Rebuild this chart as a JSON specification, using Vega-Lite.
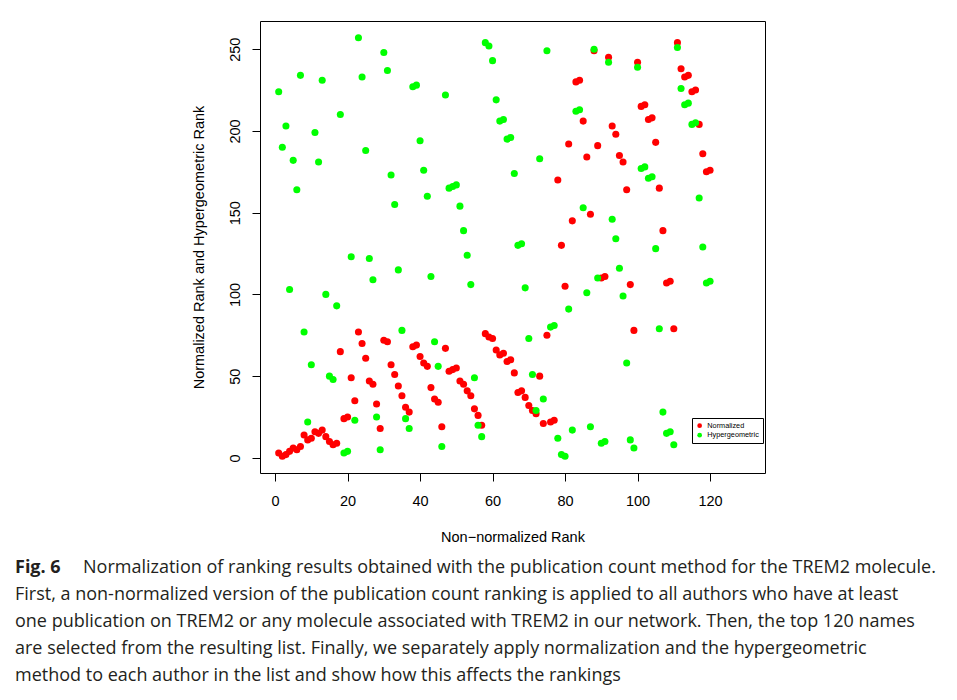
{
  "$schema": "https://vega.github.io/schema/vega-lite/v6.json",
  "autosize": {"type": "none"},
  "width": 505,
  "height": 452,
  "padding": {"left": 260, "top": 21, "right": 192, "bottom": 227},
  "background": "white",
  "datasets": {
    "pts": [
      {"r":1,"v":3,"m":"Normalized"},{"r":2,"v":1,"m":"Normalized"},{"r":3,"v":2,"m":"Normalized"},{"r":4,"v":4,"m":"Normalized"},{"r":5,"v":6,"m":"Normalized"},{"r":6,"v":5,"m":"Normalized"},{"r":7,"v":7,"m":"Normalized"},{"r":8,"v":14,"m":"Normalized"},{"r":9,"v":11,"m":"Normalized"},{"r":10,"v":12,"m":"Normalized"},
      {"r":11,"v":16,"m":"Normalized"},{"r":12,"v":15,"m":"Normalized"},{"r":13,"v":17,"m":"Normalized"},{"r":14,"v":13,"m":"Normalized"},{"r":15,"v":10,"m":"Normalized"},{"r":16,"v":8,"m":"Normalized"},{"r":17,"v":9,"m":"Normalized"},{"r":18,"v":65,"m":"Normalized"},{"r":19,"v":24,"m":"Normalized"},{"r":20,"v":25,"m":"Normalized"},
      {"r":21,"v":49,"m":"Normalized"},{"r":22,"v":35,"m":"Normalized"},{"r":23,"v":77,"m":"Normalized"},{"r":24,"v":70,"m":"Normalized"},{"r":25,"v":61,"m":"Normalized"},{"r":26,"v":47,"m":"Normalized"},{"r":27,"v":45,"m":"Normalized"},{"r":28,"v":33,"m":"Normalized"},{"r":29,"v":18,"m":"Normalized"},{"r":30,"v":72,"m":"Normalized"},
      {"r":31,"v":71,"m":"Normalized"},{"r":32,"v":57,"m":"Normalized"},{"r":33,"v":51,"m":"Normalized"},{"r":34,"v":44,"m":"Normalized"},{"r":35,"v":38,"m":"Normalized"},{"r":36,"v":31,"m":"Normalized"},{"r":37,"v":28,"m":"Normalized"},{"r":38,"v":68,"m":"Normalized"},{"r":39,"v":69,"m":"Normalized"},{"r":40,"v":62,"m":"Normalized"},
      {"r":41,"v":58,"m":"Normalized"},{"r":42,"v":56,"m":"Normalized"},{"r":43,"v":43,"m":"Normalized"},{"r":44,"v":36,"m":"Normalized"},{"r":45,"v":34,"m":"Normalized"},{"r":46,"v":19,"m":"Normalized"},{"r":47,"v":67,"m":"Normalized"},{"r":48,"v":53,"m":"Normalized"},{"r":49,"v":54,"m":"Normalized"},{"r":50,"v":55,"m":"Normalized"},
      {"r":51,"v":47,"m":"Normalized"},{"r":52,"v":45,"m":"Normalized"},{"r":53,"v":41,"m":"Normalized"},{"r":54,"v":38,"m":"Normalized"},{"r":55,"v":30,"m":"Normalized"},{"r":56,"v":26,"m":"Normalized"},{"r":57,"v":20,"m":"Normalized"},{"r":58,"v":76,"m":"Normalized"},{"r":59,"v":74,"m":"Normalized"},{"r":60,"v":73,"m":"Normalized"},
      {"r":61,"v":66,"m":"Normalized"},{"r":62,"v":63,"m":"Normalized"},{"r":63,"v":64,"m":"Normalized"},{"r":64,"v":59,"m":"Normalized"},{"r":65,"v":60,"m":"Normalized"},{"r":66,"v":52,"m":"Normalized"},{"r":67,"v":40,"m":"Normalized"},{"r":68,"v":41,"m":"Normalized"},{"r":69,"v":37,"m":"Normalized"},{"r":70,"v":32,"m":"Normalized"},
      {"r":71,"v":29,"m":"Normalized"},{"r":72,"v":27,"m":"Normalized"},{"r":73,"v":50,"m":"Normalized"},{"r":74,"v":21,"m":"Normalized"},{"r":75,"v":75,"m":"Normalized"},{"r":76,"v":22,"m":"Normalized"},{"r":77,"v":23,"m":"Normalized"},{"r":78,"v":170,"m":"Normalized"},{"r":79,"v":130,"m":"Normalized"},{"r":80,"v":105,"m":"Normalized"},
      {"r":81,"v":192,"m":"Normalized"},{"r":82,"v":145,"m":"Normalized"},{"r":83,"v":230,"m":"Normalized"},{"r":84,"v":231,"m":"Normalized"},{"r":85,"v":206,"m":"Normalized"},{"r":86,"v":184,"m":"Normalized"},{"r":87,"v":149,"m":"Normalized"},{"r":88,"v":249,"m":"Normalized"},{"r":89,"v":191,"m":"Normalized"},{"r":90,"v":110,"m":"Normalized"},
      {"r":91,"v":111,"m":"Normalized"},{"r":92,"v":245,"m":"Normalized"},{"r":93,"v":203,"m":"Normalized"},{"r":94,"v":198,"m":"Normalized"},{"r":95,"v":185,"m":"Normalized"},{"r":96,"v":181,"m":"Normalized"},{"r":97,"v":164,"m":"Normalized"},{"r":98,"v":106,"m":"Normalized"},{"r":99,"v":78,"m":"Normalized"},{"r":100,"v":242,"m":"Normalized"},
      {"r":101,"v":215,"m":"Normalized"},{"r":102,"v":216,"m":"Normalized"},{"r":103,"v":207,"m":"Normalized"},{"r":104,"v":208,"m":"Normalized"},{"r":105,"v":193,"m":"Normalized"},{"r":106,"v":165,"m":"Normalized"},{"r":107,"v":139,"m":"Normalized"},{"r":108,"v":107,"m":"Normalized"},{"r":109,"v":108,"m":"Normalized"},{"r":110,"v":79,"m":"Normalized"},
      {"r":111,"v":254,"m":"Normalized"},{"r":112,"v":238,"m":"Normalized"},{"r":113,"v":233,"m":"Normalized"},{"r":114,"v":234,"m":"Normalized"},{"r":115,"v":224,"m":"Normalized"},{"r":116,"v":225,"m":"Normalized"},{"r":117,"v":204,"m":"Normalized"},{"r":118,"v":186,"m":"Normalized"},{"r":119,"v":175,"m":"Normalized"},{"r":120,"v":176,"m":"Normalized"},
      {"r":1,"v":224,"m":"Hypergeometric"},{"r":2,"v":190,"m":"Hypergeometric"},{"r":3,"v":203,"m":"Hypergeometric"},{"r":4,"v":103,"m":"Hypergeometric"},{"r":5,"v":182,"m":"Hypergeometric"},{"r":6,"v":164,"m":"Hypergeometric"},{"r":7,"v":234,"m":"Hypergeometric"},{"r":8,"v":77,"m":"Hypergeometric"},{"r":9,"v":22,"m":"Hypergeometric"},{"r":10,"v":57,"m":"Hypergeometric"},
      {"r":11,"v":199,"m":"Hypergeometric"},{"r":12,"v":181,"m":"Hypergeometric"},{"r":13,"v":231,"m":"Hypergeometric"},{"r":14,"v":100,"m":"Hypergeometric"},{"r":15,"v":50,"m":"Hypergeometric"},{"r":16,"v":48,"m":"Hypergeometric"},{"r":17,"v":93,"m":"Hypergeometric"},{"r":18,"v":210,"m":"Hypergeometric"},{"r":19,"v":3,"m":"Hypergeometric"},{"r":20,"v":4,"m":"Hypergeometric"},
      {"r":21,"v":123,"m":"Hypergeometric"},{"r":22,"v":23,"m":"Hypergeometric"},{"r":23,"v":257,"m":"Hypergeometric"},{"r":24,"v":233,"m":"Hypergeometric"},{"r":25,"v":188,"m":"Hypergeometric"},{"r":26,"v":122,"m":"Hypergeometric"},{"r":27,"v":109,"m":"Hypergeometric"},{"r":28,"v":25,"m":"Hypergeometric"},{"r":29,"v":5,"m":"Hypergeometric"},{"r":30,"v":248,"m":"Hypergeometric"},
      {"r":31,"v":237,"m":"Hypergeometric"},{"r":32,"v":173,"m":"Hypergeometric"},{"r":33,"v":155,"m":"Hypergeometric"},{"r":34,"v":115,"m":"Hypergeometric"},{"r":35,"v":78,"m":"Hypergeometric"},{"r":36,"v":24,"m":"Hypergeometric"},{"r":37,"v":18,"m":"Hypergeometric"},{"r":38,"v":227,"m":"Hypergeometric"},{"r":39,"v":228,"m":"Hypergeometric"},{"r":40,"v":194,"m":"Hypergeometric"},
      {"r":41,"v":176,"m":"Hypergeometric"},{"r":42,"v":160,"m":"Hypergeometric"},{"r":43,"v":111,"m":"Hypergeometric"},{"r":44,"v":71,"m":"Hypergeometric"},{"r":45,"v":56,"m":"Hypergeometric"},{"r":46,"v":7,"m":"Hypergeometric"},{"r":47,"v":222,"m":"Hypergeometric"},{"r":48,"v":165,"m":"Hypergeometric"},{"r":49,"v":166,"m":"Hypergeometric"},{"r":50,"v":167,"m":"Hypergeometric"},
      {"r":51,"v":154,"m":"Hypergeometric"},{"r":52,"v":139,"m":"Hypergeometric"},{"r":53,"v":124,"m":"Hypergeometric"},{"r":54,"v":106,"m":"Hypergeometric"},{"r":55,"v":49,"m":"Hypergeometric"},{"r":56,"v":20,"m":"Hypergeometric"},{"r":57,"v":13,"m":"Hypergeometric"},{"r":58,"v":254,"m":"Hypergeometric"},{"r":59,"v":252,"m":"Hypergeometric"},{"r":60,"v":243,"m":"Hypergeometric"},
      {"r":61,"v":219,"m":"Hypergeometric"},{"r":62,"v":206,"m":"Hypergeometric"},{"r":63,"v":207,"m":"Hypergeometric"},{"r":64,"v":195,"m":"Hypergeometric"},{"r":65,"v":196,"m":"Hypergeometric"},{"r":66,"v":174,"m":"Hypergeometric"},{"r":67,"v":130,"m":"Hypergeometric"},{"r":68,"v":131,"m":"Hypergeometric"},{"r":69,"v":104,"m":"Hypergeometric"},{"r":70,"v":73,"m":"Hypergeometric"},
      {"r":71,"v":51,"m":"Hypergeometric"},{"r":72,"v":29,"m":"Hypergeometric"},{"r":73,"v":183,"m":"Hypergeometric"},{"r":74,"v":36,"m":"Hypergeometric"},{"r":75,"v":249,"m":"Hypergeometric"},{"r":76,"v":80,"m":"Hypergeometric"},{"r":77,"v":81,"m":"Hypergeometric"},{"r":78,"v":12,"m":"Hypergeometric"},{"r":79,"v":2,"m":"Hypergeometric"},{"r":80,"v":1,"m":"Hypergeometric"},
      {"r":81,"v":91,"m":"Hypergeometric"},{"r":82,"v":17,"m":"Hypergeometric"},{"r":83,"v":212,"m":"Hypergeometric"},{"r":84,"v":213,"m":"Hypergeometric"},{"r":85,"v":153,"m":"Hypergeometric"},{"r":86,"v":101,"m":"Hypergeometric"},{"r":87,"v":19,"m":"Hypergeometric"},{"r":88,"v":250,"m":"Hypergeometric"},{"r":89,"v":110,"m":"Hypergeometric"},{"r":90,"v":9,"m":"Hypergeometric"},
      {"r":91,"v":10,"m":"Hypergeometric"},{"r":92,"v":242,"m":"Hypergeometric"},{"r":93,"v":146,"m":"Hypergeometric"},{"r":94,"v":134,"m":"Hypergeometric"},{"r":95,"v":116,"m":"Hypergeometric"},{"r":96,"v":99,"m":"Hypergeometric"},{"r":97,"v":58,"m":"Hypergeometric"},{"r":98,"v":11,"m":"Hypergeometric"},{"r":99,"v":6,"m":"Hypergeometric"},{"r":100,"v":239,"m":"Hypergeometric"},
      {"r":101,"v":177,"m":"Hypergeometric"},{"r":102,"v":178,"m":"Hypergeometric"},{"r":103,"v":171,"m":"Hypergeometric"},{"r":104,"v":172,"m":"Hypergeometric"},{"r":105,"v":128,"m":"Hypergeometric"},{"r":106,"v":79,"m":"Hypergeometric"},{"r":107,"v":28,"m":"Hypergeometric"},{"r":108,"v":15,"m":"Hypergeometric"},{"r":109,"v":16,"m":"Hypergeometric"},{"r":110,"v":8,"m":"Hypergeometric"},
      {"r":111,"v":251,"m":"Hypergeometric"},{"r":112,"v":226,"m":"Hypergeometric"},{"r":113,"v":216,"m":"Hypergeometric"},{"r":114,"v":217,"m":"Hypergeometric"},{"r":115,"v":204,"m":"Hypergeometric"},{"r":116,"v":205,"m":"Hypergeometric"},{"r":117,"v":159,"m":"Hypergeometric"},{"r":118,"v":129,"m":"Hypergeometric"},{"r":119,"v":107,"m":"Hypergeometric"},{"r":120,"v":108,"m":"Hypergeometric"}
    ]
  },
  "data": {"name": "pts"},
  "title": {
    "text": "Fig. 6",
    "subtitle": [
      "\u200b\u2003\u2003\u2003\u00a0\u00a0\u00a0Normalization of ranking results obtained with the publication count method for the TREM2 molecule.",
      "First, a non-normalized version of the publication count ranking is applied to all authors who have at least",
      "one publication on TREM2 or any molecule associated with TREM2 in our network. Then, the top 120 names",
      "are selected from the resulting list. Finally, we separately apply normalization and the hypergeometric",
      "method to each author in the list and show how this affects the rankings"
    ],
    "orient": "bottom",
    "anchor": "start",
    "frame": "group",
    "dx": -245,
    "offset": 15,
    "font": "Open Sans",
    "fontSize": 18,
    "fontWeight": "bold",
    "color": "#231f20",
    "subtitleFont": "Open Sans",
    "subtitleFontSize": 18,
    "subtitleFontWeight": "normal",
    "subtitleColor": "#231f20",
    "subtitleLineHeight": 27,
    "subtitlePadding": -18,
    "limit": 1000
  },
  "mark": {"type": "point", "filled": true, "opacity": 1, "size": 50, "strokeWidth": 0},
  "encoding": {
    "x": {
      "field": "r", "type": "quantitative",
      "scale": {"domain": [-4.16, 135.16], "nice": false, "zero": false},
      "axis": {
        "title": "Non\u2212normalized Rank",
        "values": [0, 20, 40, 60, 80, 100, 120],
        "grid": false, "domain": false,
        "tickColor": "black", "tickSize": 8, "tickWidth": 1,
        "labelFont": "Liberation Sans", "labelFontSize": 14.5, "labelColor": "black",
        "labelPadding": 13, "labelAngle": 0, "labelBaseline": "top", "labelAlign": "center",
        "titleFont": "Liberation Sans", "titleFontSize": 14.5, "titleFontWeight": "normal", "titleColor": "black",
        "titleX": 252.5, "titleY": 68, "titleBaseline": "alphabetic", "titleAlign": "center", "titleAngle": 0
      }
    },
    "y": {
      "field": "v", "type": "quantitative",
      "scale": {"domain": [-9.24, 267.24], "nice": false, "zero": false},
      "axis": {
        "title": "Normalized Rank and Hypergeometric Rank",
        "values": [0, 50, 100, 150, 200, 250],
        "grid": false, "domain": false,
        "tickColor": "black", "tickSize": 8, "tickWidth": 1,
        "labelFont": "Liberation Sans", "labelFontSize": 14.5, "labelColor": "black",
        "labelPadding": 13, "labelAngle": -90, "labelBaseline": "alphabetic", "labelAlign": "center",
        "titleFont": "Liberation Sans", "titleFontSize": 14.5, "titleFontWeight": "normal", "titleColor": "black",
        "titleX": -57, "titleY": 226, "titleBaseline": "alphabetic", "titleAlign": "center", "titleAngle": -90
      }
    },
    "color": {
      "field": "m", "type": "nominal",
      "scale": {"domain": ["Normalized", "Hypergeometric"], "range": ["#FF0000", "#00FF00"]},
      "legend": {
        "title": null,
        "orient": "none", "legendX": 432, "legendY": 397,
        "symbolType": "circle", "symbolSize": 22, "symbolStrokeWidth": 0, "symbolOpacity": 1,
        "labelFont": "Liberation Sans", "labelFontSize": 7.3, "labelColor": "black", "labelOffset": 4,
        "strokeColor": "black", "fillColor": "white", "padding": 4, "rowPadding": 1.5, "cornerRadius": 0
      }
    }
  },
  "config": {
    "view": {"stroke": "black", "strokeWidth": 1}
  }
}
